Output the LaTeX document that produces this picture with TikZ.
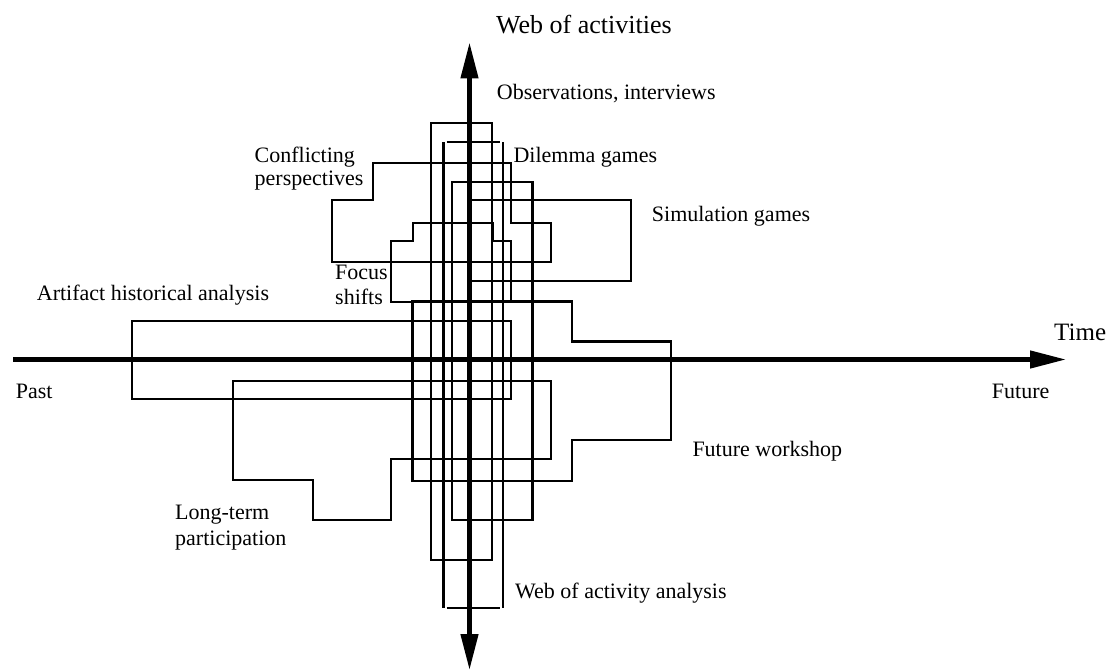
\documentclass[tikz,border=0pt]{standalone}
\usepackage{fontspec}
\setmainfont{Liberation Serif}
\usetikzlibrary{arrows.meta}
\begin{document}
\begin{tikzpicture}[x=1pt,y=-1pt,
  region/.style={line width=2.2pt, line join=miter},
  axisline/.style={line width=4.5pt},
  tip/.style={-{Triangle[length=36pt,width=17pt]}},
  lbl/.style={anchor=base west, inner sep=0pt, align=left, font=\fontsize{22}{25}\selectfont},
  biglbl/.style={anchor=base west, inner sep=0pt, font=\fontsize{26}{30}\selectfont},
]
\useasboundingbox (0,0) rectangle (1111,671);

% activity regions
% observations, interviews
\draw[region] (430.8,123) rectangle (492.2,560);
% web of activity analysis (open corners)
\draw[region] (443.5,142.3) -- (443.5,608);
\draw[region] (502.7,142.3) -- (502.7,608);
\draw[region] (446.7,142.3) -- (500,142.3);
\draw[region] (446.7,608) -- (500,608);
% dilemma games
\draw[region] (452.2,181.7) rectangle (532.4,520);
% conflicting perspectives
\draw[region] (372.7,162.7) -- (510.7,162.7) -- (510.7,222.7) -- (550.7,222.7)
  -- (550.7,261.7) -- (332.3,261.7) -- (332.3,200) -- (372.7,200) -- cycle;
% simulation games
\draw[region] (469.5,200) rectangle (630.7,280.7);
% focus shifts
\draw[region] (390.7,241) -- (412.7,241) -- (412.7,222.7) -- (492.7,222.7)
  -- (492.7,241) -- (510.7,241) -- (510.7,301.7) -- (390.7,301.7) -- cycle;
% future workshop
\draw[region] (412.5,301.5) -- (572,301.5) -- (572,341.5) -- (670.7,341.5)
  -- (670.7,440) -- (572,440) -- (572,480.7) -- (412.5,480.7) -- cycle;
% artifact historical analysis
\draw[region] (132.3,320.7) rectangle (510.7,399.3);
% long-term participation
\draw[region] (233.3,381) -- (551,381) -- (551,459.3) -- (390.7,459.3)
  -- (390.7,520) -- (313.3,520) -- (313.3,480.3) -- (233.3,480.3) -- cycle;

% axes
\coordinate (tstart) at (13,359.5);
\coordinate (tend) at (1066,359.5);
\coordinate (wtop) at (469.5,42.5);
\coordinate (wbot) at (469.5,670);
\coordinate (wmid) at (469.5,359.5);
\draw[axisline] (tstart) -- (wmid);
\draw[axisline, tip] (wmid) -- (tend);
\draw[axisline, tip] (wmid) -- (wtop);
\draw[axisline, tip] (wmid) -- (wbot);

% axis labels
\node[biglbl] (webacts) at (496,33.5) {Web of activities};
\node[biglbl, font=\fontsize{25}{30}\selectfont] (time) at (1054,340) {Time};
\node[lbl] (past) at (15.7,398.3) {Past};
\node[lbl] (future) at (991.7,398.3) {Future};

% region labels (two-line labels are placed by their last baseline)
\node[lbl] (obs) at (496.7,100) {Observations, interviews};
\node[lbl] (dilemma) at (513.3,162.7) {Dilemma games};
\node[lbl, font=\fontsize{22}{22.5}\selectfont] (conflict) at (254.5,185.5) {Conflicting\\perspectives};
\node[lbl] (simul) at (651.7,221.7) {Simulation games};
\node[lbl, font=\fontsize{22}{25}\selectfont] (focus) at (335,304) {Focus\\shifts};
\node[lbl] (artifact) at (36.7,300.7) {Artifact historical analysis};
\node[lbl] (workshop) at (692.3,456.7) {Future workshop};
\node[lbl, font=\fontsize{22}{26.5}\selectfont] (longterm) at (175,545.8) {Long-term\\participation};
\node[lbl] (webana) at (515,598.3) {Web of activity analysis};
\end{tikzpicture}
\end{document}
